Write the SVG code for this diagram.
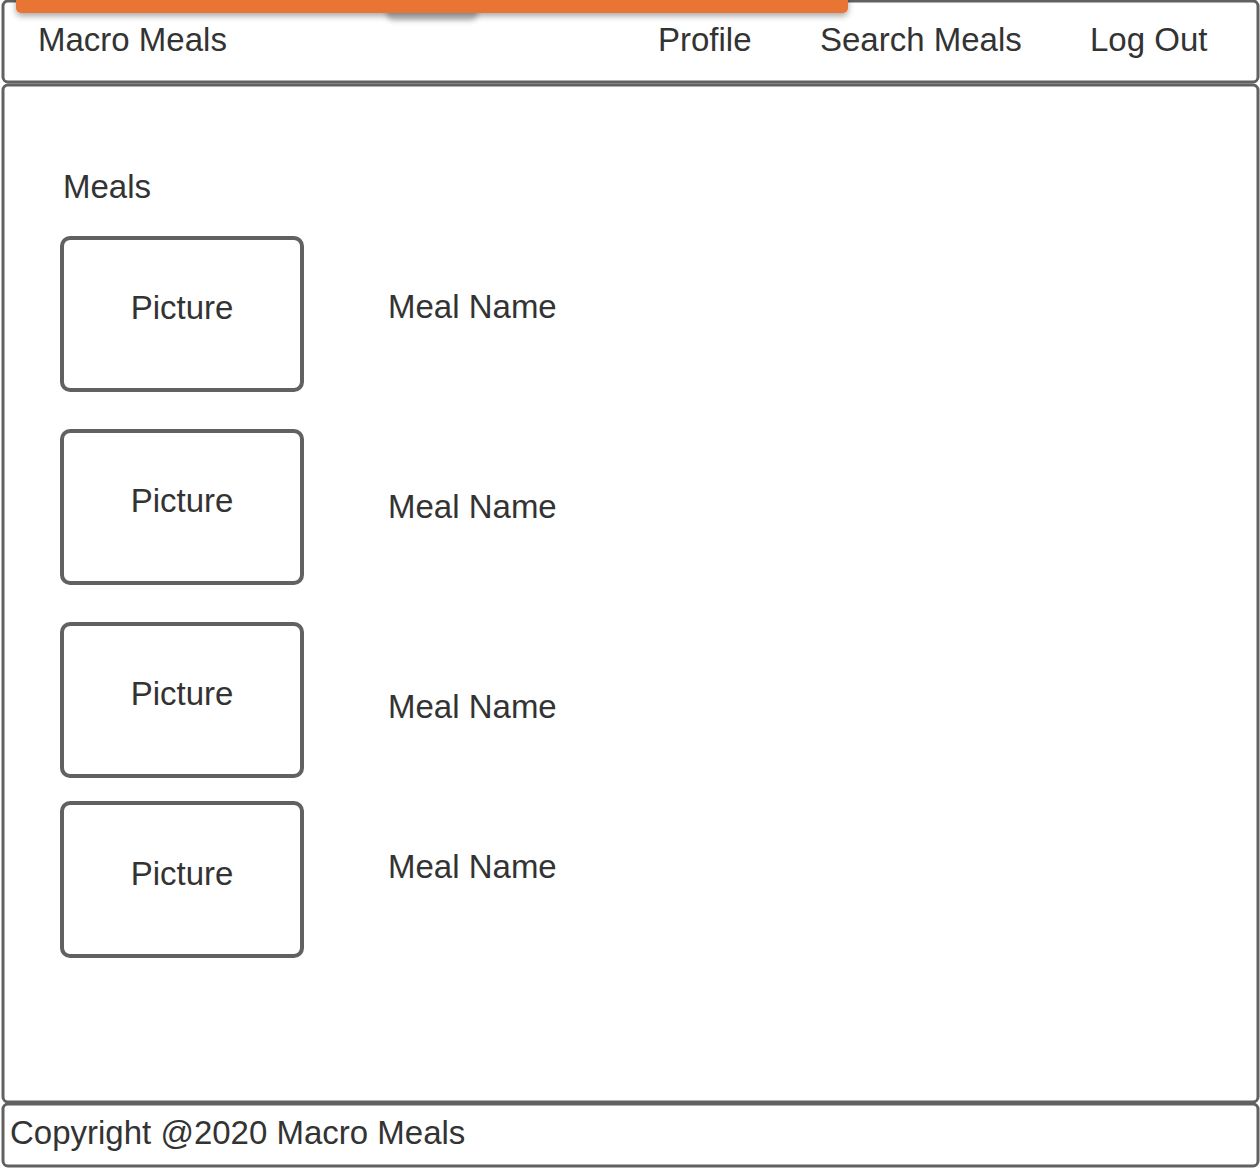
<svg xmlns="http://www.w3.org/2000/svg" width="1260" height="1168" viewBox="0 0 1260 1168">
<defs>
<style>
.frame{fill:#fff;stroke:#616161;stroke-width:3}
.pic{fill:#fff;stroke:#616161;stroke-width:4}
.t{font-family:"Liberation Sans",Arial,sans-serif;font-size:33px;fill:#333}
.c{text-anchor:middle}
</style>
<filter id="sh" x="-5%" y="-100%" width="110%" height="400%">
<feGaussianBlur in="SourceAlpha" stdDeviation="3"/>
<feOffset dx="0" dy="3" result="b"/>
<feFlood flood-color="#000" flood-opacity="0.35"/>
<feComposite in2="b" operator="in"/>
<feMerge><feMergeNode/><feMergeNode in="SourceGraphic"/></feMerge>
</filter>
<filter id="blur" x="-20%" y="-100%" width="140%" height="300%"><feGaussianBlur stdDeviation="2.5"/></filter>
</defs>
<rect width="1260" height="1168" fill="#fff"/>
<g id="header">
<rect class="frame" x="3" y="1" width="1255" height="81" rx="5"/>
<text class="t" x="38" y="51">Macro Meals</text>
<text class="t" x="658" y="51">Profile</text>
<text class="t" x="820" y="51">Search Meals</text>
<text class="t" x="1090" y="51">Log Out</text>
</g>
<g id="topbar">
<rect x="386" y="4" width="92" height="17" rx="8" fill="#888" opacity="0.5" filter="url(#blur)"/>
<rect x="16" y="-6" width="832" height="19" rx="5" fill="#e97434" filter="url(#sh)"/>
</g>
<g id="main">
<rect class="frame" x="3" y="85" width="1255" height="1017" rx="5"/>
<text class="t" x="63" y="198">Meals</text>
</g>
<g id="meal1">
<rect class="pic" x="62" y="238" width="240" height="152" rx="8"/>
<text class="t c" x="182" y="319">Picture</text>
<text class="t" x="388" y="318">Meal Name</text>
</g>
<g id="meal2">
<rect class="pic" x="62" y="431" width="240" height="152" rx="8"/>
<text class="t c" x="182" y="512">Picture</text>
<text class="t" x="388" y="518">Meal Name</text>
</g>
<g id="meal3">
<rect class="pic" x="62" y="624" width="240" height="152" rx="8"/>
<text class="t c" x="182" y="705">Picture</text>
<text class="t" x="388" y="718">Meal Name</text>
</g>
<g id="meal4">
<rect class="pic" x="62" y="803" width="240" height="153" rx="8"/>
<text class="t c" x="182" y="885">Picture</text>
<text class="t" x="388" y="878">Meal Name</text>
</g>
<g id="footer">
<rect class="frame" x="3" y="1104" width="1255" height="62" rx="5"/>
<text class="t" x="10" y="1144">Copyright @2020 Macro Meals</text>
</g>
<g id="connectors"/>
</svg>
